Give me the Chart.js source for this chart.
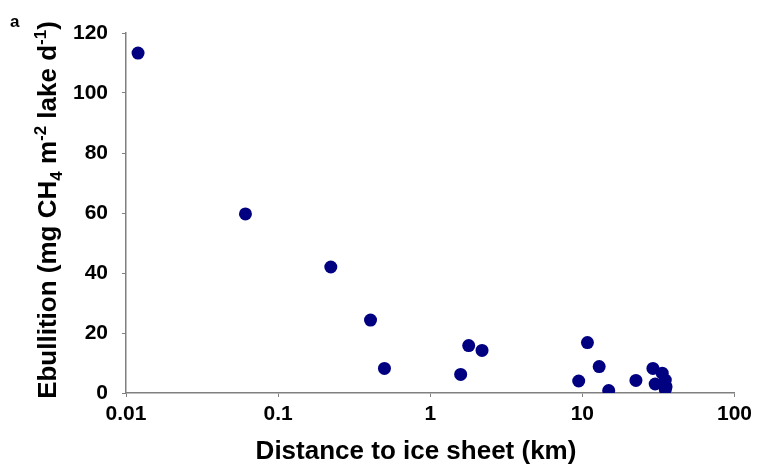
<!DOCTYPE html>
<html>
<head>
<meta charset="utf-8">
<script src="https://cdn.jsdelivr.net/npm/chart.js@4.4.1/dist/chart.umd.min.js"></script>
<style>
  html, body { margin: 0; padding: 0; background: #fff; }
  #wrap { width: 757px; height: 467px; position: relative; }
</style>
</head>
<body>
<div id="wrap"><canvas id="myChart"></canvas></div>
<script>
// distance to ice sheet (km) and ebullition (mg CH4 m-2 lake d-1)
var distKm = [0.012, 0.061, 0.222, 0.405, 0.5, 1.585, 1.79, 2.19, 9.46, 10.8, 12.9, 14.9, 22.5, 29.1, 30.1, 33.5, 35.1, 35.5, 35.1];
var ebullition = [113.3, 59.7, 42.0, 24.3, 8.2, 6.2, 15.8, 14.2, 4.0, 16.8, 8.8, 0.8, 4.2, 8.2, 3.0, 6.6, 4.3, 2.1, 1.2];
var xTicks = [0.01, 0.1, 1, 10, 100];
var yTicks = [0, 20, 40, 60, 80, 100, 120];

var points = [];
for (var i = 0; i < distKm.length; i++) {
  points.push({ x: distKm[i], y: ebullition[i] });
}

const fontFam = "'Liberation Sans', Arial, sans-serif";
const axisGray = "#808080";

// axis titles with sub/superscripts, and the panel letter
const titlesPlugin = {
  id: "titles",
  afterDraw(chart) {
    const ctx = chart.ctx;
    ctx.save();
    ctx.fillStyle = "#000";

    ctx.font = "bold 17px " + fontFam;
    ctx.textAlign = "left";
    ctx.textBaseline = "alphabetic";
    ctx.fillText("a", 10, 27);

    ctx.font = "bold 26px " + fontFam;
    ctx.textAlign = "center";
    ctx.fillText("Distance to ice sheet (km)", 416, 459);

    // y title, rotated
    const parts = [
      { t: "Ebullition (mg CH", s: 0 },
      { t: "4", s: 1 },
      { t: " m", s: 0 },
      { t: "-2", s: -1 },
      { t: " lake d", s: 0 },
      { t: "-1", s: -1 },
      { t: ")", s: 0 },
    ];
    const big = "bold 26px " + fontFam;
    const small = "bold 17px " + fontFam;
    let total = 0;
    parts.forEach(function (p) {
      ctx.font = p.s ? small : big;
      p.w = ctx.measureText(p.t).width;
      total += p.w;
    });
    ctx.translate(56, 210);
    ctx.rotate(-Math.PI / 2);
    ctx.textAlign = "left";
    let x = -total / 2;
    parts.forEach(function (p) {
      ctx.font = p.s ? small : big;
      const dy = p.s === 1 ? 6 : p.s === -1 ? -10 : 0;
      ctx.fillText(p.t, x, dy);
      x += p.w;
    });
    ctx.restore();
  },
};

const ctx = document.getElementById("myChart").getContext("2d");
const myChart = new Chart(ctx, {
  type: "scatter",
  data: {
    datasets: [
      {
        data: points,
        backgroundColor: "#000080",
        borderColor: "#000080",
        pointRadius: 6.5,
        pointHoverRadius: 6.5,
        borderWidth: 0,
      },
    ],
  },
  options: {
    responsive: true,
    maintainAspectRatio: false,
    animation: false,
    layout: { padding: { left: 0, top: 33, right: 19, bottom: 0 } },
    plugins: { legend: { display: false }, tooltip: { enabled: false } },
    scales: {
      x: {
        type: "logarithmic",
        min: 0.01,
        max: 100,
        afterBuildTicks: function (scale) {
          scale.ticks = xTicks.map(function (v) { return { value: v }; });
        },
        afterFit: function (scale) { scale.height = 74; },
        ticks: {
          color: "#000",
          font: { family: fontFam, size: 21, weight: "bold" },
          padding: 5,
          maxRotation: 0,
          autoSkip: false,
          callback: function (v) { return String(v); },
        },
        grid: { drawOnChartArea: false, drawTicks: true, tickLength: 4, color: axisGray },
        border: { color: axisGray, width: 1.5 },
      },
      y: {
        min: 0,
        max: 120,
        afterBuildTicks: function (scale) {
          scale.ticks = yTicks.map(function (v) { return { value: v }; });
        },
        afterFit: function (scale) { scale.width = 126; },
        ticks: {
          color: "#000",
          font: { family: fontFam, size: 21, weight: "bold" },
          padding: 14,
        },
        grid: { drawOnChartArea: false, drawTicks: true, tickLength: 4, color: axisGray },
        border: { color: axisGray, width: 1.5 },
      },
    },
  },
  plugins: [titlesPlugin],
});
</script>
</body>
</html>
